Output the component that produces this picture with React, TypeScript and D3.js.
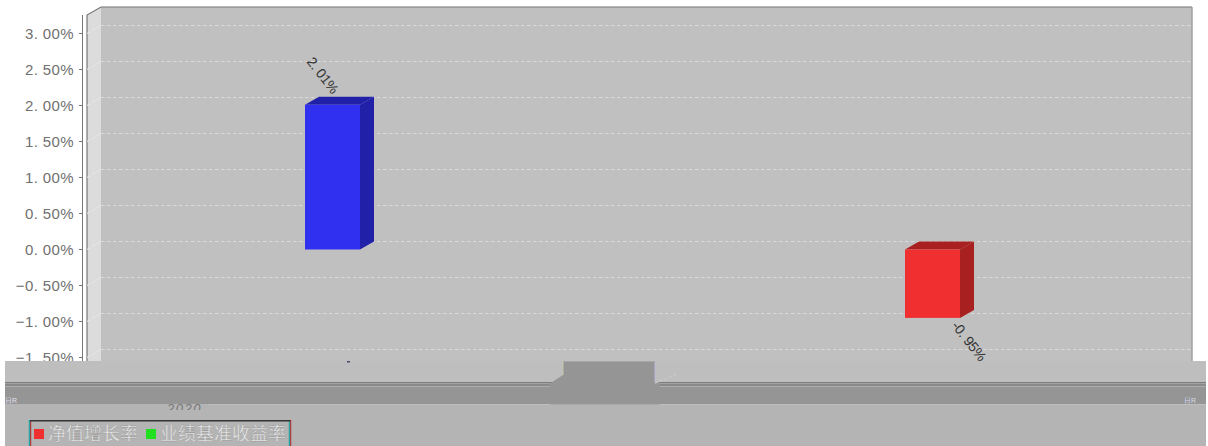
import * as d3 from 'd3';

const seriesNames = ['业绩比较', '净值增长'];
const seriesValues = [2.01, -0.95];
const seriesLabels = ['2. 01%', '-0. 95%'];
const tickValues = [3, 2.5, 2, 1.5, 1, 0.5, 0, -0.5, -1, -1.5];
const legendNames = ['净值增长率', '业绩基准收益率'];
const legendColours = ['#f03030', '#20e020'];

const width = 1208;
const height = 446;
const depthX = 14;
const depthY = 8;
const barWidth = 55;
const wallLeft = 87;
const wallRight = 1192;
const wallTop = 7;
const bandTop = 361;

const barFaces = [
  { front: '#3030f0', top: '#2020a8', side: '#2020a8' },
  { front: '#f03030', top: '#a82020', side: '#a82020' },
];

const y = d3.scaleLinear().domain([0, 3]).range([249.5, 33.5]);
const x = d3.scalePoint<string>().domain(seriesNames).range([305, 905]);

function tickLabel(value: number) {
  return d3.format('.2f')(value).replace('.', '. ') + '%';
}

export default function App() {
  const grid = tickValues.map((value) => y(value));

  return (
    <svg
      width={width}
      height={height}
      viewBox={`0 0 ${width} ${height}`}
      style={{ position: 'absolute', left: 0, top: 0, display: 'block', background: '#fff' }}
      fontFamily="'Liberation Sans', Arial, sans-serif"
    >
      {/* walls */}
      <rect x={wallLeft + depthX} y={wallTop} width={wallRight - wallLeft - depthX} height={bandTop - wallTop} fill="#c0c0c0" />
      <path
        d={`M${wallLeft},${wallTop + depthY}L${wallLeft + depthX},${wallTop}V${bandTop}H${wallLeft}Z`}
        fill="#dcdcdc"
      />
      <path
        d={`M${wallLeft},${bandTop}V${wallTop + depthY}L${wallLeft + depthX},${wallTop}H${wallRight}`}
        fill="none"
        stroke="#777"
        strokeWidth={1.2}
      />
      <line x1={wallRight} x2={wallRight} y1={wallTop} y2={bandTop} stroke="#a0a0a0" strokeWidth={1.5} />

      {/* grid */}
      {grid.map((gy, i) => (
        <g key={i} fill="none" strokeWidth={1} strokeDasharray="3.5 2.5">
          <path d={`M${wallLeft},${gy}L${wallLeft + depthX},${gy - depthY}`} stroke="#ececec" />
          <path d={`M${wallLeft + depthX},${gy - depthY}H${wallRight - 1}`} stroke="#dadada" />
        </g>
      ))}

      {/* y axis */}
      <line x1={82.5} x2={82.5} y1={15} y2={bandTop} stroke="#777" />
      {tickValues.map((value, i) => (
        <g key={value}>
          <line x1={79} x2={82.5} y1={grid[i]} y2={grid[i]} stroke="#777" />
          <text
            x={74}
            y={grid[i] + 5.5}
            textAnchor="end"
            fontSize={15}
            letterSpacing={0.4}
            fill="#707070"
          >
            {value < 0 ? tickLabel(value).replace('-', '\u2212') : tickLabel(value)}
          </text>
        </g>
      ))}

      {/* bars */}
      {seriesValues.map((value, i) => {
        const left = x(seriesNames[i]) as number;
        const top = y(Math.max(value, 0));
        const bottom = y(Math.min(value, 0));
        const right = left + barWidth;
        const face = barFaces[i];
        return (
          <g key={seriesNames[i]}>
            <path
              d={`M${left},${top}L${left + depthX},${top - depthY}H${right + depthX}L${right},${top}Z`}
              fill={face.top}
            />
            <path
              d={`M${right},${top}L${right + depthX},${top - depthY}V${bottom - depthY}L${right},${bottom}Z`}
              fill={face.side}
            />
            <rect x={left} y={top} width={barWidth} height={bottom - top} fill={face.front} />
          </g>
        );
      })}

      {/* value labels */}
      {seriesValues.map((value, i) => {
        const left = x(seriesNames[i]) as number;
        const labelX = value > 0 ? left + 1 : left + barWidth - 9;
        const labelY = value > 0 ? y(value) - 43 : y(value) + 8;
        return (
          <text
            key={seriesLabels[i]}
            transform={`translate(${labelX},${labelY}) rotate(52)`}
            fontSize={14}
            letterSpacing={-0.3}
            fill="#333"
          >
            {seriesLabels[i]}
          </text>
        );
      })}

      {/* bottom bands */}
      <rect x={5} y={bandTop} width={1201} height={21} fill="#bebebe" />
      <rect x={5} y={382} width={1201} height={1.5} fill="#7c7c7c" />
      <rect x={5} y={383.5} width={1201} height={3} fill="#8a8a8a" />
      <rect x={5} y={386.5} width={1201} height={18} fill="#959595" />
      <rect x={5} y={404.5} width={1201} height={41.5} fill="#b4b4b4" />
      <path
        d={`M550,383.5L563,375V${bandTop}H655V382H660V404.5H550Z`}
        fill="#959595"
      />
      <path d="M655,383L677,374" stroke="#c8c8c8" strokeWidth={1.5} strokeDasharray="3 2" fill="none" />
      <rect x={5} y={404} width={203} height={1} fill="#b4b4b4" />
      <line x1={655} x2={655} y1={bandTop} y2={382} stroke="#b8b8d8" />
      <line x1={563} x2={563} y1={bandTop} y2={375} stroke="#c8c8a8" />
      <rect x={563} y={bandTop} width={92} height={1} fill="#a8a8a8" />
      <rect x={347} y={361} width={3} height={1.5} fill="#4a4a70" />

      {/* remnants of the cut off x labels */}
      <text x={5} y={403} fontSize={7} fill="#e0e0f0">日R</text>
      <text x={1184} y={403} fontSize={7} fill="#d8d8f0">日R</text>
      <clipPath id="yearClip">
        <rect x={160} y={404} width={60} height={6} />
      </clipPath>
      <g clipPath="url(#yearClip)">
        <text x={167} y={413} fontSize={13} fontStyle="italic" letterSpacing={1.5} fill="#777">
          2020
        </text>
      </g>

      {/* legend */}
      <rect x={30} y={420.5} width={260} height={30} fill="none" stroke="#00a0a0" strokeWidth={1} transform="translate(-0.7,0)" />
      <rect x={30} y={420.5} width={260} height={30} fill="none" stroke="#b02020" strokeWidth={1} transform="translate(0.7,0)" />
      <rect x={30} y={420} width={260} height={1.5} fill="#333" />
      {legendNames.map((name, i) => {
        const keyX = i === 0 ? 34 : 146;
        return (
          <g key={name}>
            <rect x={keyX} y={429} width={10} height={10} fill={legendColours[i]} />
            <text
              x={keyX + 14}
              y={440}
              fontSize={18}
              fontFamily="'Noto Sans CJK SC', sans-serif"
              fill="#ececec"
              stroke="#8f8f8f"
              strokeWidth={0.3}
            >
              {name}
            </text>
          </g>
        );
      })}
    </svg>
  );
}
